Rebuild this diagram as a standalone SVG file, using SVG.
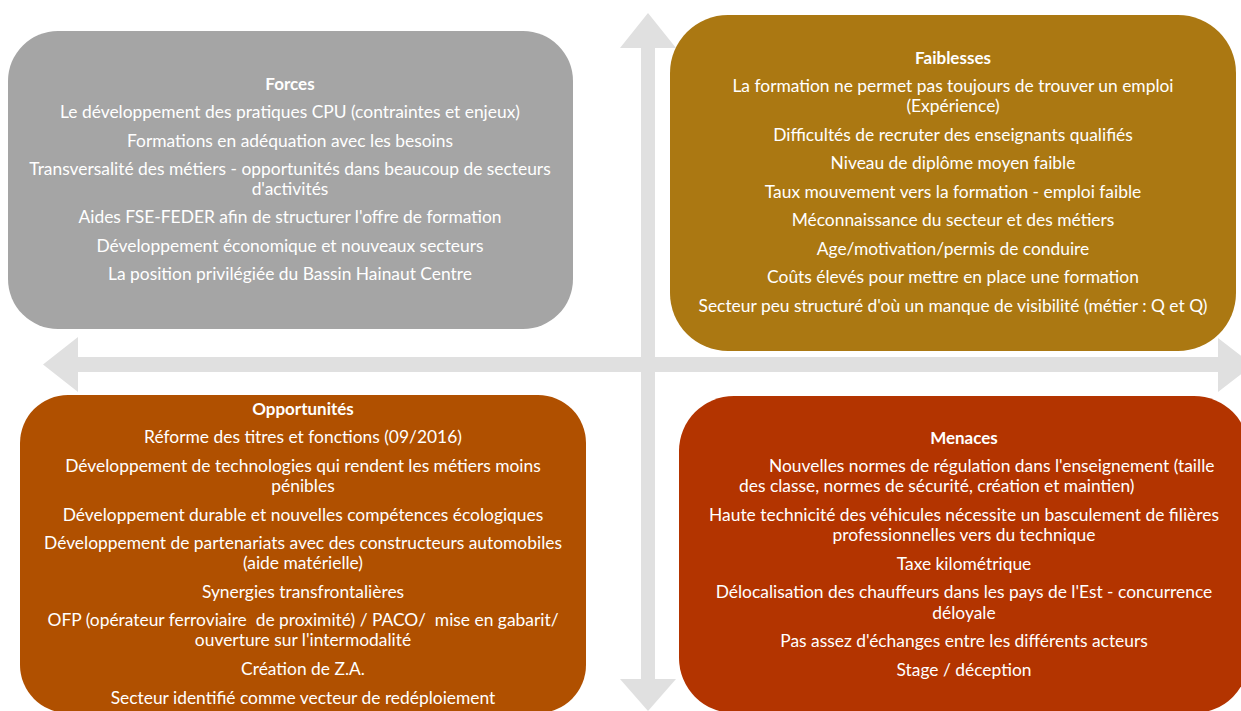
<svg xmlns="http://www.w3.org/2000/svg" width="1241" height="711" viewBox="0 0 1241 711">
<style>
.t{font-family:Lato,"Open Sans","Liberation Sans",sans-serif;font-size:17.4px;fill:#ffffff;text-anchor:middle}
.h{font-weight:bold;font-size:17px}
.s{text-anchor:start}
.arrow{fill:#E0E0E0}
</style>
<rect width="1241" height="711" fill="#ffffff"/>
<g id="connectors">
<polygon class="arrow" points="648,13 676,48 655,48 655,679 676,679 648,711 620,679 641,679 641,48 620,48"/>
<polygon class="arrow" points="43,364.5 78,337 78,357 1218,357 1218,338 1253,365 1218,392 1218,372 78,372 78,392"/>
</g>
<g id="forces">
<rect x="8" y="31" width="565" height="298" rx="50" fill="#A5A5A5"/>
<text class="t h" x="290" y="90">Forces</text>
<text class="t" x="290" y="118">Le développement des pratiques CPU (contraintes et enjeux)</text>
<text class="t" x="290" y="147">Formations en adéquation avec les besoins</text>
<text class="t" x="290" y="175">Transversalité des métiers - opportunités dans beaucoup de secteurs</text>
<text class="t" x="290" y="195">d'activités</text>
<text class="t" x="290" y="223">Aides FSE-FEDER afin de structurer l'offre de formation</text>
<text class="t" x="290" y="252">Développement économique et nouveaux secteurs</text>
<text class="t" x="290" y="280">La position privilégiée du Bassin Hainaut Centre</text>
</g>
<g id="faiblesses">
<rect x="670" y="15" width="566" height="336" rx="58" fill="#AB7812"/>
<text class="t h" x="953" y="64">Faiblesses</text>
<text class="t" x="953" y="92">La formation ne permet pas toujours de trouver un emploi</text>
<text class="t" x="953" y="112">(Expérience)</text>
<text class="t" x="953" y="141">Difficultés de recruter des enseignants qualifiés</text>
<text class="t" x="953" y="169">Niveau de diplôme moyen faible</text>
<text class="t" x="953" y="198">Taux mouvement vers la formation - emploi faible</text>
<text class="t" x="953" y="226">Méconnaissance du secteur et des métiers</text>
<text class="t" x="953" y="255">Age/motivation/permis de conduire</text>
<text class="t" x="953" y="283">Coûts élevés pour mettre en place une formation</text>
<text class="t" x="953" y="312">Secteur peu structuré d'où un manque de visibilité (métier : Q et Q)</text>
</g>
<g id="opportunites">
<rect x="20" y="395" width="566" height="318" rx="48" fill="#B05000"/>
<text class="t h" x="303" y="415">Opportunités</text>
<text class="t" x="303" y="443">Réforme des titres et fonctions (09/2016)</text>
<text class="t" x="303" y="472">Développement de technologies qui rendent les métiers moins</text>
<text class="t" x="303" y="492">pénibles</text>
<text class="t" x="303" y="521">Développement durable et nouvelles compétences écologiques</text>
<text class="t" x="303" y="549">Développement de partenariats avec des constructeurs automobiles</text>
<text class="t" x="303" y="569">(aide matérielle)</text>
<text class="t" x="303" y="598">Synergies transfrontalières</text>
<text class="t" x="303" y="626" xml:space="preserve">OFP (opérateur ferroviaire  de proximité) / PACO/  mise en gabarit/</text>
<text class="t" x="303" y="646">ouverture sur l'intermodalité</text>
<text class="t" x="303" y="675">Création de Z.A.</text>
<text class="t" x="303" y="704">Secteur identifié comme vecteur de redéploiement</text>
</g>
<g id="menaces">
<rect x="679" y="396" width="570" height="317" rx="55" fill="#B33400"/>
<text class="t h" x="964" y="444">Menaces</text>
<text class="t s" x="769" y="472">Nouvelles normes de régulation dans l'enseignement (taille</text>
<text class="t s" x="739" y="492">des classe, normes de sécurité, création et maintien)</text>
<text class="t" x="964" y="521">Haute technicité des véhicules nécessite un basculement de filières</text>
<text class="t" x="964" y="541">professionnelles vers du technique</text>
<text class="t" x="964" y="570">Taxe kilométrique</text>
<text class="t" x="964" y="598">Délocalisation des chauffeurs dans les pays de l'Est - concurrence</text>
<text class="t" x="964" y="619">déloyale</text>
<text class="t" x="964" y="647">Pas assez d'échanges entre les différents acteurs</text>
<text class="t" x="964" y="676">Stage / déception</text>
</g>
</svg>
